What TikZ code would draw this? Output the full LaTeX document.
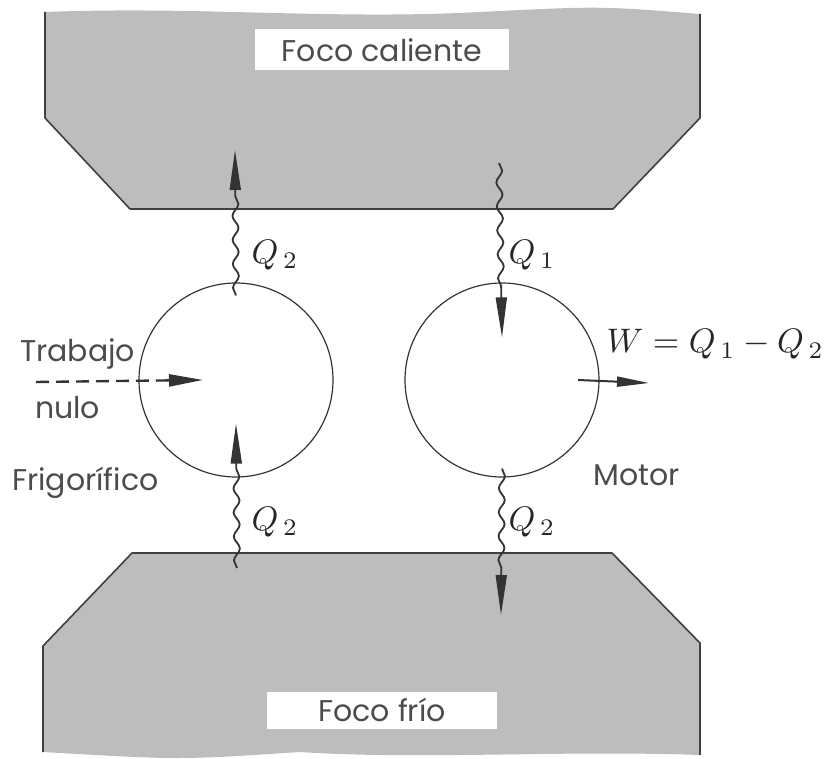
\documentclass[tikz,border=0pt]{standalone}
\usepackage{fontspec}
\setsansfont{Poppins}
\usepackage{tikz}
\usetikzlibrary{arrows.meta,decorations.pathmorphing}
\usetikzlibrary{positioning}

\begin{document}
\begin{tikzpicture}[x=1pt,y=-1pt]
	 \tikzstyle{bath}=[fill=black!26]
	 \tikzstyle{rim}=[draw=black!75,line width=1.6pt,line join=round]
	 \tikzstyle{tag}=[fill=white,minimum width=254pt,minimum height=41pt,inner sep=0pt,font=\sffamily\fontsize{30}{36}\selectfont,text=black!70]
	 \tikzstyle{engine}=[circle,draw=black!80,line width=1.2pt,minimum size=194pt,inner sep=0pt]
	 \tikzstyle{heat}=[draw=black!80,line width=1.8pt,decorate,decoration={snake,amplitude=3pt,segment length=24pt,post length=44pt},-{Triangle[length=40pt,width=11pt]}]
	 \tikzstyle{work}=[draw=black!80,line width=2.4pt,-{Triangle[length=34pt,width=12pt]}]
	 \tikzstyle{word}=[inner sep=0pt,font=\sffamily\fontsize{30}{36}\selectfont,text=black!70]
	 \tikzstyle{sym}=[inner sep=0pt,scale=3.4,text=black!85]

	 \useasboundingbox (0,0) rectangle (836,759);

	 % foco caliente
	 \fill[bath] (45,12) .. controls (200,6) and (330,20) .. (480,12) .. controls (600,6) .. (700,14) -- (700,118) -- (613,209) -- (130,209) -- (45,118) -- cycle;
	 \draw[rim] (45,12) -- (45,118) -- (130,209) -- (613,209) -- (700,118) -- (700,14);
	 % foco frio
	 \fill[bath] (43,646) -- (132,553) -- (612,553) -- (700,643) -- (700,755) .. controls (560,750) and (420,760) .. (300,752) .. controls (180,760) .. (43,752) -- cycle;
	 \draw[rim] (43,752) -- (43,646) -- (132,553) -- (612,553) -- (700,643) -- (700,755);

	 \node[tag] (hot) at (382,50) {Foco caliente};
	 \node[tag,minimum width=230pt,minimum height=37pt] (cold) at (382,710) {Foco frío};

	 \node[engine] (frig) at (236,380) {};
	 \node[engine] (motor) at (502,380) {};

	 \coordinate (hotL) at (235,150);
	 \coordinate (hotR) at (499,163);
	 \coordinate (coldL) at (237,568);
	 \coordinate (coldR) at (501,615);
	 \coordinate (workin) at (36,382);
	 \coordinate (workout) at (649,383);

	 \draw[heat] ([yshift=-13pt]frig.north) -- (hotL);
	 \draw[heat] (coldL) -- ([yshift=54pt]frig.south);
	 \draw[heat] (hotR) -- ([yshift=-55pt]motor.north);
	 \draw[heat] ([yshift=9pt]motor.south) -- (coldR);

	 \draw[work,dash pattern=on 13pt off 7pt] (workin) -- ([xshift=-33pt]frig.center);
%	 \draw[work] (workin) -- (frig.west);
	 \draw[work,line width=2pt,-{Triangle[length=32pt,width=10pt]}] ([xshift=76pt]motor.center) -- (workout);

	 \node[sym,anchor=west] (q2a) at (251,255) {$Q_{\,2}$};
	 \node[sym,anchor=west] (q1) at (508,255) {$Q_{\,1}$};
	 \node[sym,anchor=west] (q2b) at (251,522) {$Q_{\,2}$};
	 \node[sym,anchor=west] (q2c) at (508,522) {$Q_{\,2}$};
	 \node[sym,anchor=base west] (weq) at (606,353) {$W = Q_{\,1} - Q_{\,2}$};

	 \node[word,anchor=base west] (trab) at (20,362) {Trabajo};
	 \node[word,anchor=base west] (nulo) at (35,418) {nulo};
	 \node[word,anchor=base west] (frigo) at (12,490) {Frigorífico};
	 \node[word,anchor=base west] (mot) at (593,485) {Motor};
 \end{tikzpicture}
\end{document}
